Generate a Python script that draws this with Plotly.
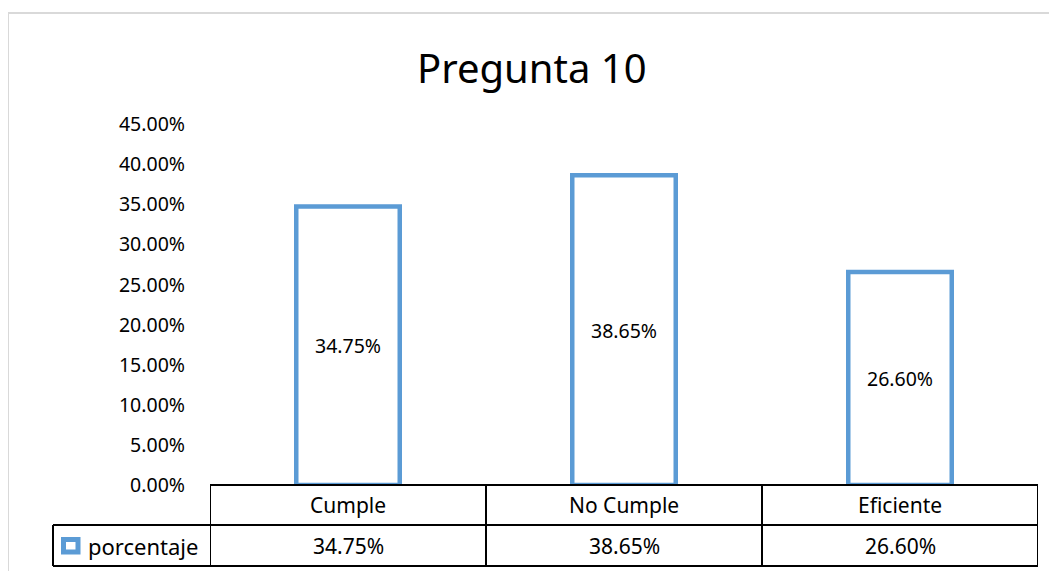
import plotly.graph_objects as go

categorias = ["Cumple", "No Cumple", "Eficiente"]
porcentaje = [0.3475, 0.3865, 0.2660]
serie = "porcentaje"
titulo = "Pregunta 10"

W, H = 1057, 571
OFF = 8  # margen del body de la página
azul = "#5B9BD5"
fuente = "Noto Sans, Open Sans, sans-serif"

def px_x(p):
    return (p - OFF) / W

def px_y(p):
    return 1 - (p - OFF) / H

etiquetas = [f"{v*100:.2f}%" for v in porcentaje]

fig = go.Figure()
fig.add_trace(go.Bar(
    x=categorias, y=porcentaje, name=serie,
    width=0.375,
    marker=dict(color="white", line=dict(color=azul, width=4.5)),
    text=etiquetas, textposition="inside", insidetextanchor="middle",
    textfont=dict(size=19.5, color="#000000", family=fuente),
    showlegend=False,
))

y_bot, y_top = 485, 124.5
fila1, fila2, fila3 = 485, 525, 566
x_izq, x_der, x_leg = 210, 1038, 53

shapes = []
# borde gris del gráfico
shapes.append(dict(type="line", xref="paper", yref="paper", x0=px_x(8), x1=1, y0=px_y(13), y1=px_y(13),
                   line=dict(color="#D9D9D9", width=2)))
shapes.append(dict(type="line", xref="paper", yref="paper", x0=px_x(8), x1=px_x(8), y0=px_y(13), y1=0,
                   line=dict(color="#D9D9D9", width=2)))

negro = dict(color="#000000", width=2)
# líneas horizontales de la tabla
shapes.append(dict(type="line", xref="x", yref="paper", x0=-0.5, x1=len(categorias) - 0.5,
                   y0=px_y(fila1), y1=px_y(fila1), line=negro))
shapes.append(dict(type="line", xref="paper", yref="paper", x0=px_x(x_leg), x1=px_x(x_leg),
                   y0=px_y(fila2), y1=px_y(fila3), line=negro))
for yy in (fila2, fila3):
    shapes.append(dict(type="line", xref="paper", yref="paper", x0=px_x(x_leg), x1=px_x(x_izq),
                       y0=px_y(yy), y1=px_y(yy), line=negro))
    shapes.append(dict(type="line", xref="x", yref="paper", x0=-0.5, x1=len(categorias) - 0.5,
                       y0=px_y(yy), y1=px_y(yy), line=negro))
# líneas verticales
for i in range(len(categorias) + 1):
    shapes.append(dict(type="line", xref="x", yref="paper", x0=i - 0.5, x1=i - 0.5,
                       y0=px_y(fila1), y1=px_y(fila3), line=negro))
# icono de la leyenda
shapes.append(dict(type="rect", xref="paper", yref="paper", x0=px_x(63.5), x1=px_x(78),
                   y0=px_y(552), y1=px_y(539.5), line=dict(color=azul, width=5), fillcolor="white"))

tf = dict(size=21, family=fuente, color="#000")
anots = []
for i, c in enumerate(categorias):
    anots.append(dict(x=c, xref="x", y=px_y((fila1 + fila2) / 2), yref="paper", yanchor="middle",
                      text=c, showarrow=False, font=tf))
    anots.append(dict(x=c, xref="x", y=px_y((fila2 + fila3) / 2), yref="paper", yanchor="middle",
                      text=etiquetas[i], showarrow=False, font=tf))
anots.append(dict(x=px_x(86), xref="paper", xanchor="left", y=px_y((fila2 + fila3) / 2), yref="paper",
                  yanchor="middle", text=serie, showarrow=False, font=dict(size=22, family=fuente, color="#000")))
anots.append(dict(x=px_x(532), xref="paper", y=px_y(68), yref="paper", yanchor="middle", text=titulo,
                  showarrow=False, font=dict(size=40, family=fuente, color="#000")))

fig.update_layout(
    width=W, height=H,
    margin=dict(l=0, r=0, t=0, b=0, pad=0),
    paper_bgcolor="white", plot_bgcolor="white",
    xaxis=dict(domain=[px_x(x_izq), px_x(x_der)], range=[-0.5, 2.5], showticklabels=False,
               showgrid=False, zeroline=False, showline=False, ticks="", automargin=False),
    yaxis=dict(domain=[px_y(y_bot), px_y(y_top)], range=[0, 0.45], dtick=0.05, tickformat=".2%",
               showgrid=False, zeroline=False, showline=False, ticks="", ticklabelstandoff=24,
               automargin=False, tickfont=dict(size=19.5, family=fuente, color="#000")),
    shapes=shapes, annotations=anots,
    font=dict(family=fuente),
)

fig.write_html("out.html")
